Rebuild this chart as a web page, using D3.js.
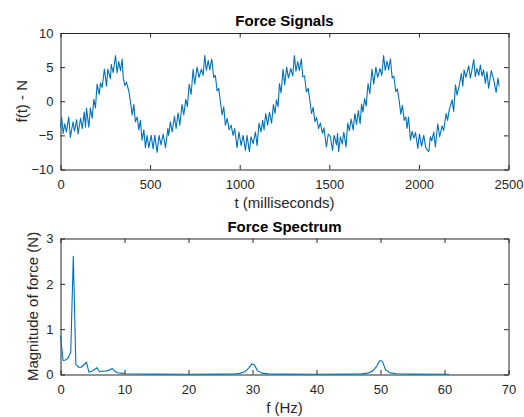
<!DOCTYPE html>
<html>
<head>
<meta charset="utf-8">
<script src="https://cdn.jsdelivr.net/npm/d3@7"></script>
<style>
  body { margin: 0; background: #fff; }
  svg { display: block; font-family: "Liberation Sans", Arial, Helvetica, sans-serif; }
  .tick text { fill: #262626; font-size: 13px; }
  .domain, .tick line { stroke: #262626; }
</style>
</head>
<body>
<div id="chart"></div>
<script>
// force signal, sampled at the zig-zag turning points (ms, N)
var sigT = [0, 6, 15, 24, 33, 46, 55, 70, 78, 90, 98, 112, 122, 132, 140, 145, 158, 167, 177, 186, 195,
  204, 216, 223, 232, 245, 257, 264, 279, 283, 294, 307, 316, 325, 335, 344, 350, 359, 368, 381, 390,
  400, 409, 418, 428, 437, 446, 455, 465, 474, 483, 493,
  506, 517, 526, 539, 550, 561, 573, 586, 599, 604, 613, 623, 636, 645, 656, 666, 678, 688, 699, 708,
  718, 729, 740, 749, 762, 773, 786, 796, 805, 814, 824, 833, 844, 855, 864, 874, 883, 892, 902, 911,
  920, 930, 941, 952, 963, 972, 985, 996,
  1008, 1019, 1032, 1041, 1054, 1063, 1075, 1088, 1097, 1108, 1119, 1128, 1136, 1145, 1156, 1166, 1178,
  1188, 1197, 1205, 1214, 1222, 1231, 1242, 1251, 1262, 1272, 1285, 1296, 1305, 1314, 1324, 1333, 1344,
  1352, 1362, 1372, 1382, 1392, 1401, 1410, 1420, 1429, 1440, 1450, 1462, 1470, 1484, 1494,
  1506, 1518, 1527, 1540, 1546, 1552, 1562, 1572, 1581, 1593, 1603, 1612, 1622, 1633, 1643, 1652, 1662,
  1672, 1680, 1688, 1697, 1706, 1716, 1726, 1738, 1748, 1760, 1770, 1783, 1793, 1803, 1812, 1822, 1831,
  1841, 1851, 1860, 1871, 1880, 1890, 1899, 1908, 1918, 1927, 1934, 1942, 1953, 1962, 1972, 1981, 1994,
  2003, 2015, 2027, 2038, 2055, 2064, 2072, 2083, 2092, 2105, 2116, 2129, 2138, 2152, 2160, 2169, 2185,
  2194, 2204, 2213, 2226, 2237, 2245, 2252, 2262, 2278, 2287, 2296, 2306, 2315, 2324, 2334, 2343, 2352,
  2361, 2371, 2380, 2389, 2404, 2418, 2431, 2441, 2448];
var sigF = [-3.8, -2.3, -4.7, -3.3, -4.5, -2.3, -5.3, -3.0, -4.4, -2.7, -4.8, -2.5, -4.0, -1.6, -3.8, -1.0, -3.8, -1.0, -2.5, 0.3, -1.0,
  2.5, 1.0, 2.7, 2.0, 4.7, 2.2, 4.7, 3.3, 5.4, 4.2, 6.7, 4.2, 5.8, 4.5, 6.2, 3.5, 2.3, 2.8, 1.5, 0.0,
  -2.0, -0.5, -3.0, -2.3, -4.2, -2.8, -5.7, -4.2, -6.8, -5.0, -6.8,
  -5.0, -7.0, -5.0, -7.5, -5.0, -6.4, -4.8, -6.8, -4.0, -5.0, -3.0, -4.5, -2.2, -4.0, -1.7, -3.5, -0.5, -2.0, 0.3, -0.8,
  2.5, 1.0, 4.7, 2.5, 5.0, 3.5, 4.7, 3.8, 6.7, 4.5, 6.0, 4.6, 6.2, 3.5, 3.8, 1.5, 1.9, 0.0, -2.0, -0.8,
  -3.5, -2.5, -4.2, -3.5, -5.0, -4.0, -6.8, -4.5,
  -6.5, -5.0, -7.2, -5.0, -7.4, -5.2, -6.2, -4.5, -6.5, -3.2, -4.5, -2.8, -4.2, -1.8, -3.5, -1.6, -3.2,
  -0.5, -1.8, 0.2, -0.8, 2.6, 1.2, 4.7, 2.4, 5.0, 3.4, 4.8, 3.7, 6.7, 4.4, 5.8, 4.5, 6.2,
  3.6, 3.7, 1.4, 1.9, 0.0, -1.8, -0.9, -3.0, -2.4, -4.0, -3.2, -4.7, -3.9, -6.7, -4.8,
  -5.2, -7.2, -5.0, -6.4, -4.7, -7.4, -5.2, -6.3, -4.5, -6.7, -3.2, -4.3, -2.6, -4.2, -1.8, -3.4, -1.4,
  -3.3, -0.4, -1.6, 0.4, -0.7, 2.6, 1.1, 4.7, 2.5, 5.0, 3.5, 4.8, 3.8, 6.7, 4.5, 5.9, 4.6,
  6.2, 3.4, 3.7, 1.4, 1.8, 0.1, -1.9, -0.6, -2.8, -2.3, -4.0, -2.3, -5.7, -4.4, -5.4, -4.6, -6.9,
  -4.8, -6.6, -5.0, -6.8, -7.4, -5.2, -5.8, -4.5, -6.7, -3.3, -5.2, -3.6, -4.3, -1.8, -2.8, -1.3, 0.2,
  -1.5, 2.4, 0.9, 2.4, 4.1, 2.2, 4.6, 3.5, 5.2, 3.4, 4.6, 6.1, 3.6, 4.8, 3.8, 5.3, 3.7,
  4.6, 2.6, 4.3, 1.9, 4.5, 3.1, 1.3, 3.4, 2.2];

// force spectrum (Hz, N)
var specFreq = [0, 0.4, 0.8, 1.2, 1.6, 2.0, 2.4, 2.85, 3.25, 4.05, 4.45, 4.9, 5.7, 6.1, 6.5, 7.3, 8.1, 8.5, 8.9, 9.4,
  10.2, 12, 15, 20, 25, 27, 28, 28.8, 29.4, 29.9, 30.3, 30.8, 31.5, 32.5, 35, 40, 45, 47, 48, 48.8, 49.4,
  49.9, 50.3, 50.8, 51.5, 52.5, 55, 60.7];
var specMag = [0.86, 0.31, 0.32, 0.37, 0.49, 2.61, 0.22, 0.16, 0.16, 0.27, 0.05, 0.07, 0.15, 0.06, 0.07, 0.08, 0.13, 0.07, 0.04, 0.03,
  0.015, 0.01, 0.008, 0.006, 0.008, 0.012, 0.025, 0.06, 0.14, 0.235, 0.21, 0.08, 0.03, 0.014, 0.008, 0.006, 0.008, 0.014, 0.03, 0.08, 0.18,
  0.31, 0.29, 0.1, 0.035, 0.015, 0.008, 0.005];

var sigTicksX = [0, 500, 1000, 1500, 2000, 2500],
    sigTicksY = [-10, -5, 0, 5, 10],
    specTicksX = [0, 10, 20, 30, 40, 50, 60, 70],
    specTicksY = [0, 1, 2, 3];

var W = 524, H = 417, tickLen = 4.5;
var lineColor = "#0072BD";
var fmt = d3.format("d");

var svg = d3.select("#chart").append("svg")
    .attr("width", W)
    .attr("height", H);

function drawAxes(box, x, y, ticksX, ticksY, title, xLabel, yLabel, yLabelX) {
    var g = svg.append("g");

    g.append("g")
        .attr("transform", "translate(0," + box.bottom + ")")
        .call(d3.axisBottom(x).tickValues(ticksX).tickFormat(fmt).tickSizeInner(-tickLen).tickSizeOuter(0).tickPadding(10));
    g.append("g")
        .attr("transform", "translate(0," + box.top + ")")
        .call(d3.axisTop(x).tickValues(ticksX).tickFormat("").tickSizeInner(-tickLen).tickSizeOuter(0));
    g.append("g")
        .attr("transform", "translate(" + box.left + ",0)")
        .call(d3.axisLeft(y).tickValues(ticksY).tickFormat(fmt).tickSizeInner(-tickLen).tickSizeOuter(0).tickPadding(7));
    g.append("g")
        .attr("transform", "translate(" + box.right + ",0)")
        .call(d3.axisRight(y).tickValues(ticksY).tickFormat("").tickSizeInner(-tickLen).tickSizeOuter(0));

    svg.append("text")
        .attr("x", (box.left + box.right) / 2)
        .attr("y", box.top - 7)
        .attr("text-anchor", "middle")
        .attr("font-size", "15px")
        .attr("font-weight", "bold")
        .attr("fill", "#000")
        .text(title);

    svg.append("text")
        .attr("x", (box.left + box.right) / 2)
        .attr("y", box.bottom + 38.5)
        .attr("text-anchor", "middle")
        .attr("font-size", "15px")
        .attr("fill", "#262626")
        .text(xLabel);

    svg.append("text")
        .attr("transform", "translate(" + yLabelX + "," + (box.top + box.bottom) / 2 + ") rotate(-90)")
        .attr("text-anchor", "middle")
        .attr("font-size", "15px")
        .attr("fill", "#262626")
        .text(yLabel);
}

// top: force signal
var box1 = { left: 60.5, right: 508.5, top: 33, bottom: 169.5 };
var x1 = d3.scaleLinear().domain([0, 2500]).range([box1.left, box1.right]);
var y1 = d3.scaleLinear().domain([-10, 10]).range([box1.bottom, box1.top]);
drawAxes(box1, x1, y1, sigTicksX, sigTicksY, "Force Signals", "t (milliseconds)", "f(t) - N", 27);

var sigLine = d3.line()
    .x(function (d, i) { return x1(sigT[i]); })
    .y(function (d) { return y1(d); });

svg.append("path")
    .datum(sigF)
    .attr("fill", "none")
    .attr("stroke", lineColor)
    .attr("stroke-width", 1.1)
    .attr("stroke-linejoin", "round")
    .attr("d", sigLine);

// bottom: force spectrum
var box2 = { left: 60.5, right: 508.5, top: 238.5, bottom: 374.5 };
var x2 = d3.scaleLinear().domain([0, 70]).range([box2.left, box2.right]);
var y2 = d3.scaleLinear().domain([0, 3]).range([box2.bottom, box2.top]);
drawAxes(box2, x2, y2, specTicksX, specTicksY, "Force Spectrum", "f (Hz)", "Magnitude of force (N)", 38);

var specLine = d3.line()
    .x(function (d, i) { return x2(specFreq[i]); })
    .y(function (d) { return y2(d); });

svg.append("path")
    .datum(specMag)
    .attr("fill", "none")
    .attr("stroke", lineColor)
    .attr("stroke-width", 1.1)
    .attr("stroke-linejoin", "round")
    .attr("d", specLine);
</script>
</body>
</html>
